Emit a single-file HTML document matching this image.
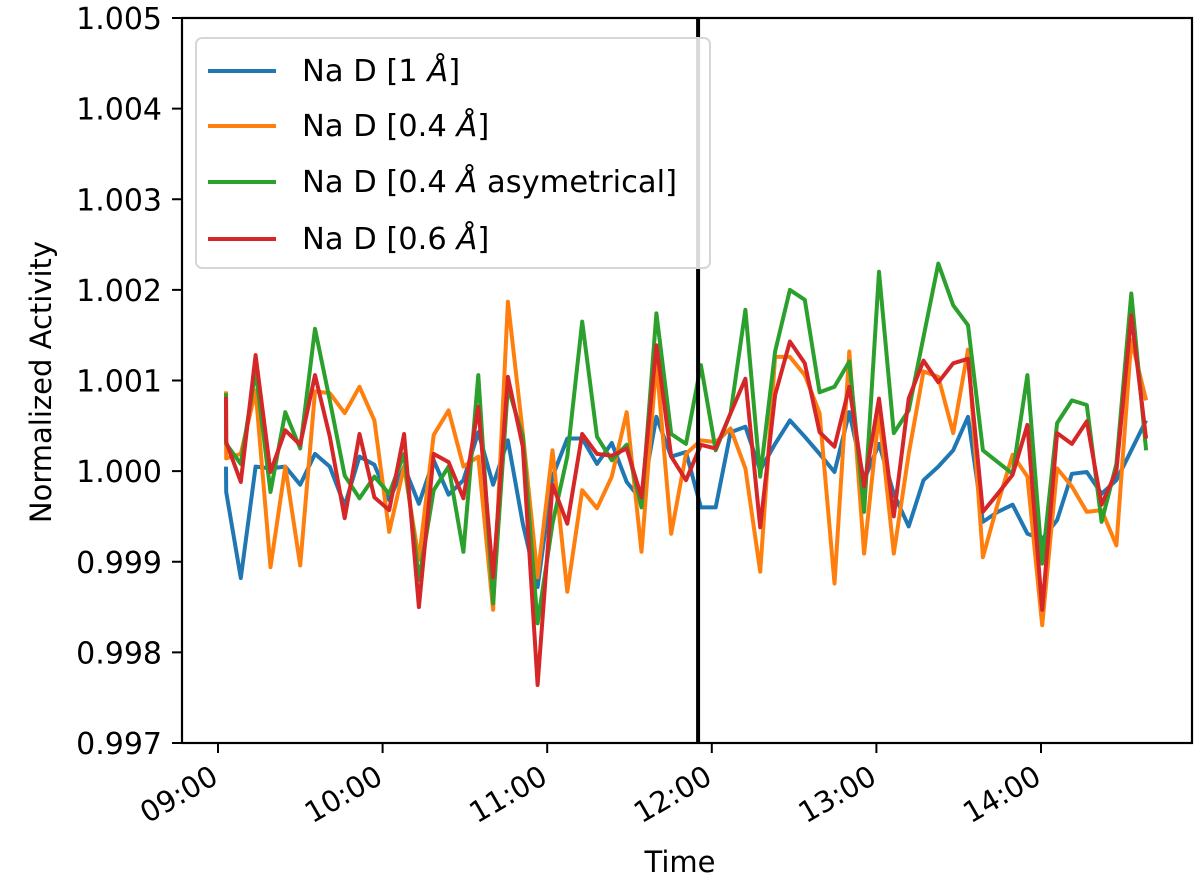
<!DOCTYPE html>
<html><head><meta charset="utf-8"><style>
html,body{margin:0;padding:0;background:#fff;}
svg{display:block;font-family:"DejaVu Sans","Liberation Sans",sans-serif;}
</style></head><body>
<svg id="chart" width="1200" height="885" viewBox="0 0 1200 885" xmlns="http://www.w3.org/2000/svg">
<g id="series"></g>
<line id="vline" y1="18" y2="743" stroke="#000" stroke-width="4"/>
<rect x="182" y="18" width="1010" height="725" fill="none" stroke="#000" stroke-width="2.2"/>
<g id="yticks"></g>
<g id="xticks"></g>
<text x="680" y="872" font-size="29" text-anchor="middle">Time</text>
<text transform="translate(51,382) rotate(-90)" font-size="29" text-anchor="middle">Normalized Activity</text>
<g>
<rect x="196" y="38" width="514" height="230" rx="6" fill="#fff" fill-opacity="0.85" stroke="#d6d6d6" stroke-width="2"/>
<g><line x1="208" x2="276" y1="71" y2="71" stroke="#1f77b4" stroke-width="4"/><text x="302" y="81" font-size="30.5">Na D [1 <tspan font-style="italic">Å</tspan>]</text></g>
<g><line x1="208" x2="276" y1="126" y2="126" stroke="#ff7f0e" stroke-width="4"/><text x="302" y="136" font-size="30.5">Na D [0.4 <tspan font-style="italic">Å</tspan>]</text></g>
<g><line x1="208" x2="276" y1="182" y2="182" stroke="#2ca02c" stroke-width="4"/><text x="302" y="192" font-size="30.5">Na D [0.4 <tspan font-style="italic">Å</tspan> asymetrical]</text></g>
<g><line x1="208" x2="276" y1="239" y2="239" stroke="#d62728" stroke-width="4"/><text x="302" y="249" font-size="30.5">Na D [0.6 <tspan font-style="italic">Å</tspan>]</text></g>
</g>
</svg>
<script>
// time in minutes after 09:00
const times=[2.9,3.0,8.31,13.72,19.13,24.54,29.95,35.36,40.77,46.18,51.59,57.0,62.41,67.82,73.23,78.64,84.05,89.46,94.87,100.28,105.69,111.1,116.51,121.92,127.33,132.74,138.15,143.56,148.97,154.38,159.79,165.2,170.61,176.02,181.43,186.84,192.25,197.66,203.07,208.48,213.89,219.3,224.71,230.12,235.53,240.94,246.35,251.76,257.17,262.58,267.99,273.4,278.81,284.22,289.63,295.04,300.45,305.86,311.27,316.68,322.09,327.5,332.91,338.32];
// activity offsets from 1.0, in units of 1e-3
const blue=[0.05,-0.23,-1.18,0.05,0.03,0.05,-0.15,0.19,0.05,-0.38,0.16,0.07,-0.32,0.05,-0.36,0.12,-0.26,-0.10,0.43,-0.15,0.34,-0.58,-1.28,-0.06,0.36,0.36,0.08,0.31,-0.12,-0.32,0.6,0.16,0.21,-0.40,-0.40,0.43,0.49,0.01,0.30,0.56,0.38,0.19,-0.01,0.65,-0.1,0.3,-0.25,-0.61,-0.10,0.05,0.23,0.60,-0.56,-0.45,-0.37,-0.69,-0.75,-0.54,-0.03,-0.01,-0.25,-0.10,0.23,0.56];
const orange=[0.88,0.14,0.19,0.89,-1.06,0.05,-1.04,0.88,0.86,0.64,0.93,0.56,-0.67,0.05,-0.98,0.40,0.67,0.05,0.16,-1.53,1.87,0.42,-1.17,0.23,-1.33,-0.21,-0.41,-0.06,0.65,-0.89,1.21,-0.69,0.19,0.34,0.32,0.47,0.03,-1.11,1.26,1.26,1.06,0.64,-1.24,1.32,-0.91,0.64,-0.91,0.19,1.10,1.04,0.42,1.34,-0.95,-0.36,0.18,-0.06,-1.70,0.03,-0.17,-0.45,-0.43,-0.82,1.45,0.78];
const green=[0.86,0.30,0.08,1.11,-0.23,0.65,0.25,1.57,0.78,-0.05,-0.30,-0.06,-0.25,0.19,-1.20,-0.21,0.05,-0.89,1.06,-1.46,0.93,0.38,-1.68,-0.58,0.16,1.65,0.38,0.12,0.29,-0.40,1.74,0.41,0.30,1.17,0.23,0.64,1.78,-0.06,1.32,2.0,1.89,0.87,0.93,1.21,-0.45,2.2,0.42,0.67,1.48,2.29,1.83,1.61,0.23,0.10,-0.03,1.06,-1.02,0.53,0.78,0.73,-0.56,0.08,1.96,0.23];
const red=[0.82,0.32,-0.12,1.28,-0.01,0.45,0.29,1.06,0.38,-0.52,0.41,-0.29,-0.43,0.41,-1.50,0.19,0.10,-0.30,0.71,-1.17,1.04,0.27,-2.36,-0.15,-0.58,0.41,0.19,0.17,0.25,-0.29,1.39,0.16,-0.10,0.29,0.25,0.64,1.02,-0.62,0.84,1.43,1.19,0.43,0.27,0.93,-0.17,0.80,-0.50,0.80,1.22,0.98,1.19,1.24,-0.45,-0.25,-0.04,0.51,-1.53,0.42,0.30,0.55,-0.37,0.00,1.72,0.36];
const yTicks=[0.997,0.998,0.999,1.000,1.001,1.002,1.003,1.004,1.005];
const yTickLabels=["0.997","0.998","0.999","1.000","1.001","1.002","1.003","1.004","1.005"];
const xTicks=[0,60,120,180,240,300];
const xTickLabels=["09:00","10:00","11:00","12:00","13:00","14:00"];
const vlineTime=175;

const NS="http://www.w3.org/2000/svg";
function xs(m){return 218+m*164.6/60;}
function ys(v){return 743-(v-0.997)/0.008*725;}
function ysOff(d){return ys(1+d/1000);}
const vl=document.getElementById('vline');
vl.setAttribute('x1',xs(vlineTime));vl.setAttribute('x2',xs(vlineTime));
const sg=document.getElementById('series');
function draw(arr,color,name){
  const p=document.createElementNS(NS,'polyline');
  
  
  p.setAttribute('points',arr.map((d,i)=>xs(times[i]).toFixed(1)+','+ysOff(d).toFixed(1)).join(' '));
  p.setAttribute('fill','none');p.setAttribute('stroke',color);
  p.setAttribute('stroke-width','4');p.setAttribute('stroke-linejoin','round');
  sg.appendChild(p);
}
draw(blue,'#1f77b4','series-na-d-1a');
draw(orange,'#ff7f0e','series-na-d-04a');
draw(green,'#2ca02c','series-na-d-04a-asym');
draw(red,'#d62728','series-na-d-06a');
const yg=document.getElementById('yticks');
yTicks.forEach((t,i)=>{
  const y=ys(t);
  const l=document.createElementNS(NS,'line');
  
  
  l.setAttribute('x1',172);l.setAttribute('x2',182);l.setAttribute('y1',y);l.setAttribute('y2',y);
  l.setAttribute('stroke','#000');l.setAttribute('stroke-width','2');yg.appendChild(l);
  const tx=document.createElementNS(NS,'text');
  
  
  tx.setAttribute('x',162);tx.setAttribute('y',y+11);tx.setAttribute('text-anchor','end');
  tx.setAttribute('font-size','30');tx.textContent=yTickLabels[i];yg.appendChild(tx);
});
const xg=document.getElementById('xticks');
xTicks.forEach((t,i)=>{
  const x=xs(t);
  const l=document.createElementNS(NS,'line');
  
  
  l.setAttribute('x1',x);l.setAttribute('x2',x);l.setAttribute('y1',743);l.setAttribute('y2',753);
  l.setAttribute('stroke','#000');l.setAttribute('stroke-width','2');xg.appendChild(l);
  const tx=document.createElementNS(NS,'text');
  
  
  tx.setAttribute('transform','translate('+(x+2)+',782) rotate(-30)');
  tx.setAttribute('text-anchor','end');tx.setAttribute('font-size','29');
  tx.textContent=xTickLabels[i];xg.appendChild(tx);
});
</script>
</body></html>
